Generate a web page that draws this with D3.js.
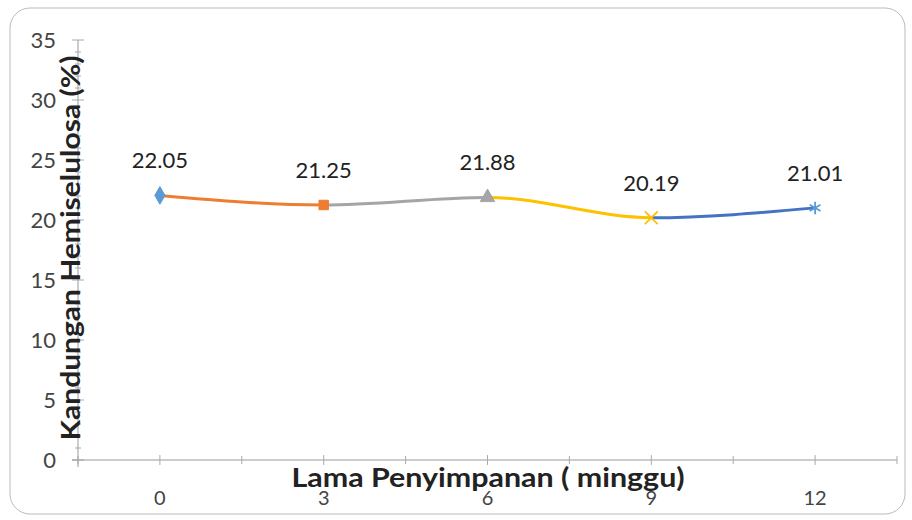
<!DOCTYPE html>
<html lang="en">
<head>
    <meta charset="UTF-8">
    <title>Kandungan Hemiselulosa</title>
    <script src="https://cdnjs.cloudflare.com/ajax/libs/d3/7.8.5/d3.min.js"></script>
    <style>
        body { margin: 0; background: #fff; font-family: Lato, "Open Sans", sans-serif; }
        .tick-label { font-size: 22px; fill: #444; }
        .axis-title { font-size: 27px; font-weight: bold; fill: #222; }
        .data-label { font-size: 22px; fill: #222; }
    </style>
</head>
<body>
<div id="chart"></div>
<script>
    // data
    const weeks = [0, 3, 6, 9, 12];
    const hemicellulose = [22.05, 21.25, 21.88, 20.19, 21.01];
    const yTicks = [0, 5, 10, 15, 20, 25, 30, 35];
    const segColors = ["#ED7D31", "#A5A5A5", "#FFC000", "#4472C4"];
    const markerColors = ["#5B9BD5", "#ED7D31", "#A5A5A5", "#FFC000", "#5B9BD5"];
    const markerTypes = ["diamond", "square", "triangle", "cross", "star"];

    const W = 912, H = 520;
    const svg = d3.select("#chart").append("svg")
        .attr("width", W).attr("height", H);

    // chart border
    svg.append("rect")
        .attr("x", 10).attr("y", 8)
        .attr("width", 895).attr("height", 506)
        .attr("rx", 20)
        .attr("fill", "#fff")
        .attr("stroke", "#bbb");

    const x = d3.scaleLinear().domain([-1.5, 13.5]).range([78, 897]);
    const y = d3.scaleLinear().domain([0, 35]).range([460, 40]);

    // y axis line + ticks
    svg.append("line")
        .attr("x1", x(-1.5)).attr("x2", x(-1.5))
        .attr("y1", y(35)).attr("y2", y(0) + 7)
        .attr("stroke", "#999");
    d3.range(0, 36).forEach(v => {
        const major = v % 5 === 0;
        svg.append("line")
            .attr("x1", x(-1.5) - (major ? 6 : 3)).attr("x2", x(-1.5) + (major ? 6 : 3))
            .attr("y1", y(v)).attr("y2", y(v))
            .attr("stroke", "#aaa");
    });
    svg.selectAll(".ylab").data(yTicks).enter().append("text")
        .attr("class", "tick-label")
        .attr("x", 56).attr("y", d => y(d) + 8)
        .attr("text-anchor", "end")
        .text(d => d);

    // x axis line + ticks
    svg.append("line")
        .attr("x1", x(-1.5) - 6).attr("x2", x(13.5))
        .attr("y1", y(0)).attr("y2", y(0))
        .attr("stroke", "#999");
    d3.range(-1.5, 13.6, 1.5).forEach(v => {
        const onCat = weeks.includes(v);
        svg.append("line")
            .attr("x1", x(v)).attr("x2", x(v))
            .attr("y1", y(0) - (onCat ? 5 : 4)).attr("y2", y(0) + (onCat ? 5 : 4))
            .attr("stroke", "#aaa");
    });
    svg.selectAll(".xlab").data(weeks).enter().append("text")
        .attr("class", "tick-label")
        .attr("x", d => x(d)).attr("y", 505)
        .attr("text-anchor", "middle")
        .style("font-size", "20px")
        .text(d => d);

    // axis titles
    svg.append("text")
        .attr("class", "axis-title")
        .attr("transform", `translate(80,248) rotate(-90)`)
        .attr("text-anchor", "middle")
        .attr("textLength", 385)
        .attr("lengthAdjust", "spacingAndGlyphs")
        .text("Kandungan Hemiselulosa (%)");
    svg.append("text")
        .attr("class", "axis-title")
        .attr("x", 488).attr("y", 487)
        .attr("text-anchor", "middle")
        .attr("textLength", 393)
        .attr("lengthAdjust", "spacingAndGlyphs")
        .text("Lama Penyimpanan ( minggu)");

    // smooth line, one colour per segment
    const pts = weeks.map((w, i) => [x(w), y(hemicellulose[i])]);
    const lineD = d3.line().curve(d3.curveMonotoneX)(pts);
    const node = svg.append("path").attr("d", lineD)
        .attr("fill", "none").attr("stroke", "none").node();
    const total = node.getTotalLength();
    // path length at each point
    const lens = pts.map(p => {
        let lo = 0, hi = total;
        for (let k = 0; k < 40; k++) {
            const mid = (lo + hi) / 2;
            if (node.getPointAtLength(mid).x < p[0]) lo = mid; else hi = mid;
        }
        return lo;
    });
    segColors.forEach((c, i) => {
        svg.append("path")
            .attr("d", lineD)
            .attr("fill", "none")
            .attr("stroke", c)
            .attr("stroke-width", 3)
            .attr("stroke-dasharray", `0 ${lens[i]} ${lens[i + 1] - lens[i]} ${total}`);
    });

    // markers
    const symMap = {
        diamond: d3.symbolDiamond, square: d3.symbolSquare, triangle: d3.symbolTriangle,
        cross: d3.symbolX, star: d3.symbolAsterisk
    };
    pts.forEach((p, i) => {
        const t = markerTypes[i];
        const stroked = t === "cross" || t === "star";
        svg.append("path")
            .attr("transform", `translate(${p[0]},${p[1]})`)
            .attr("d", d3.symbol().type(symMap[t]).size(stroked ? 110 : 90)())
            .attr("fill", stroked ? "none" : markerColors[i])
            .attr("stroke", markerColors[i])
            .attr("stroke-width", stroked ? 1.8 : 1);
    });

    // data labels
    svg.selectAll(".dlab").data(weeks).enter().append("text")
        .attr("class", "data-label")
        .attr("x", d => x(d)).attr("y", (d, i) => y(hemicellulose[i]) - 27)
        .attr("text-anchor", "middle")
        .text((d, i) => hemicellulose[i].toFixed(2));
</script>
</body>
</html>
